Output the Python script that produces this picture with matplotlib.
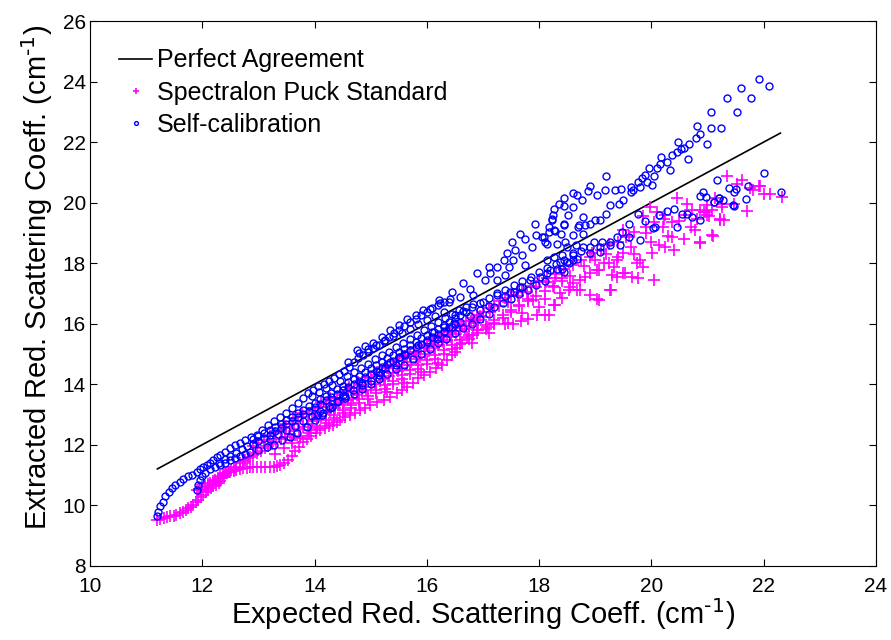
import numpy as np
import matplotlib
matplotlib.use("Agg")
import matplotlib.pyplot as plt

plt.rcParams['font.family'] = ['Liberation Sans', 'DejaVu Sans']
plt.rcParams['mathtext.default'] = 'regular'

# Perfect agreement line (expected = extracted)
line_x = [11.2, 22.3]

# Self-calibration points (grouped by visible strand)
sc_hook = [(11.19, 9.63), (11.22, 9.79), (11.25, 9.96), (11.30, 10.12), (11.34, 10.29), (11.40, 10.45),
           (11.46, 10.56), (11.52, 10.67), (11.60, 10.78), (11.66, 10.86), (11.75, 10.95), (11.81, 11.01),
           (11.90, 11.11), (11.96, 11.19), (12.02, 11.26), (12.08, 11.33), (12.14, 11.41), (12.20, 11.50),
           (12.26, 11.59), (12.32, 11.66), (12.41, 11.77), (12.50, 11.88), (12.58, 11.98), (12.67, 12.07),
           (12.76, 12.16), (12.86, 12.24), (12.97, 12.32), (13.07, 12.48), (13.18, 12.65), (13.28, 12.79),
           (13.39, 12.93), (13.49, 13.06), (13.59, 13.20), (13.70, 13.37), (13.80, 13.53), (13.89, 13.70),
           (13.98, 13.82), (14.07, 13.93), (14.16, 14.02), (14.25, 14.12), (14.34, 14.22), (14.43, 14.33),
           (14.52, 14.45), (14.61, 14.58), (14.70, 14.72), (14.78, 14.86), (14.87, 14.98), (14.96, 15.08),
           (15.05, 15.20), (15.14, 15.30), (15.23, 15.42), (15.32, 15.55), (15.41, 15.68), (15.50, 15.80),
           (15.60, 15.92), (15.70, 16.05), (15.80, 16.15), (15.90, 16.28), (16.00, 16.40), (16.10, 16.52),
           (16.20, 16.62), (16.30, 16.72), (16.42, 16.80)]
sc_hook2 = [(11.90, 10.51), (11.93, 10.67), (11.96, 10.84), (11.99, 10.95), (12.05, 11.08), (12.14, 11.19),
            (12.23, 11.26), (12.32, 11.33), (12.41, 11.41), (12.50, 11.50), (12.58, 11.55), (12.67, 11.63),
            (12.76, 11.70), (12.85, 11.77), (13.00, 11.81), (13.15, 11.94), (13.27, 11.99), (13.42, 12.16),
            (13.57, 12.27), (13.68, 12.38), (13.86, 12.60), (14.01, 12.82), (14.13, 12.99), (14.28, 13.21),
            (14.42, 13.45), (14.55, 13.62), (14.68, 13.80), (14.84, 13.97), (15.00, 14.12), (15.14, 14.30),
            (15.26, 14.52), (15.35, 14.74), (15.53, 14.91), (15.70, 15.13), (15.85, 15.28), (16.00, 15.40),
            (16.18, 15.51), (16.30, 15.72), (16.45, 15.88), (16.60, 16.05), (16.77, 16.25), (16.95, 16.45),
            (17.01, 16.73), (17.10, 16.60), (17.25, 16.94), (17.40, 16.90), (17.49, 17.06), (17.55, 17.05),
            (17.66, 17.22), (17.70, 17.20), (17.84, 17.44), (18.02, 17.55), (18.14, 17.66), (18.32, 17.82),
            (18.44, 17.72), (18.53, 17.99), (18.68, 18.15)]
sc_mid = [(12.30, 11.40), (12.40, 11.52), (12.50, 11.62), (12.60, 11.73), (12.70, 11.85), (12.80, 11.95),
          (12.90, 12.03), (13.00, 12.12), (13.10, 12.22), (13.20, 12.33), (13.30, 12.45), (13.40, 12.56),
          (13.50, 12.68), (13.60, 12.79), (13.70, 12.90), (13.80, 13.02), (13.90, 13.13), (14.00, 13.24),
          (14.10, 13.35), (14.20, 13.47), (14.30, 13.58), (14.40, 13.68), (14.50, 13.80), (14.60, 13.90),
          (14.70, 14.02), (14.80, 14.12), (14.90, 14.23), (15.00, 14.33), (15.10, 14.45), (15.20, 14.56),
          (15.30, 14.66), (15.40, 14.78), (15.50, 14.90), (15.60, 15.00), (15.70, 15.12), (15.80, 15.23),
          (15.90, 15.33), (16.00, 15.45), (16.10, 15.56), (16.20, 15.67), (16.30, 15.77), (16.40, 15.88),
          (16.50, 15.98), (12.90, 12.20), (13.00, 12.30), (13.10, 12.40), (13.20, 12.48), (13.30, 12.60),
          (13.40, 12.70), (13.50, 12.82), (13.60, 12.92), (13.70, 13.05), (13.80, 13.15), (13.90, 13.28),
          (14.00, 13.38), (14.10, 13.50), (14.20, 13.62), (14.30, 13.72), (14.40, 13.84), (14.50, 13.95),
          (14.60, 14.06), (14.70, 14.18), (14.80, 14.28), (14.90, 14.40), (15.00, 14.52), (15.10, 14.62),
          (15.20, 14.74), (15.30, 14.85), (15.40, 14.96), (15.50, 15.08), (15.60, 15.18), (15.70, 15.30),
          (15.80, 15.40), (15.90, 15.52), (16.00, 15.62), (16.10, 15.74), (16.20, 15.84), (16.30, 15.95),
          (16.40, 16.06), (16.50, 16.18), (16.60, 16.30), (16.70, 16.40), (13.20, 12.20), (13.35, 12.35),
          (13.50, 12.50), (13.65, 12.62), (13.80, 12.80), (13.95, 12.95), (14.10, 13.10), (14.25, 13.28),
          (14.40, 13.40), (14.55, 13.55), (14.70, 13.68), (14.85, 13.85), (15.00, 14.00), (15.15, 14.18),
          (15.30, 14.35), (15.45, 14.50), (15.60, 14.65), (15.75, 14.82), (15.90, 15.00), (16.05, 15.18),
          (16.20, 15.35), (16.35, 15.50), (16.50, 15.68), (16.65, 15.85), (16.80, 16.00), (16.95, 16.15),
          (17.10, 16.32), (14.04, 12.98), (14.15, 13.05), (14.31, 13.26), (14.51, 13.64), (14.84, 14.05),
          (15.14, 14.40), (15.45, 14.62), (15.62, 14.95), (16.12, 15.74), (16.30, 15.90), (16.48, 16.01)]
sc_near = [(13.95, 13.60), (14.08, 13.74), (14.20, 13.86), (14.32, 13.98), (14.45, 14.12), (14.58, 14.28),
           (14.70, 14.40), (14.82, 14.52), (14.95, 14.68), (15.08, 14.82), (15.20, 14.95), (15.32, 15.08),
           (15.45, 15.22), (15.58, 15.36), (15.70, 15.50), (15.82, 15.62), (15.95, 15.78), (16.08, 15.92),
           (16.20, 16.05), (16.32, 16.18), (16.45, 16.32), (16.58, 16.45), (16.70, 16.55), (16.82, 16.65),
           (14.80, 15.02), (14.95, 15.15), (15.10, 15.28), (15.25, 15.45), (15.40, 15.58), (15.55, 15.70),
           (15.70, 15.84), (15.85, 16.00), (16.00, 16.12), (16.15, 16.26), (16.30, 16.40), (16.50, 16.30),
           (16.65, 16.42), (16.80, 16.55), (16.95, 16.68), (17.10, 16.85), (17.25, 17.00), (17.40, 17.12),
           (17.55, 17.28), (17.70, 17.42), (17.85, 17.55), (18.00, 17.70), (18.15, 17.85), (18.30, 17.98),
           (18.45, 18.10), (18.60, 18.28), (18.75, 18.40), (18.90, 18.55), (17.20, 16.55), (17.35, 16.70),
           (17.50, 16.82), (17.65, 16.98), (17.80, 17.12), (17.95, 17.28), (18.10, 17.40)]
sc_upper = [(14.60, 14.74), (14.75, 15.13), (14.90, 15.25), (15.05, 15.36), (15.20, 15.55), (15.35, 15.79),
            (15.50, 15.95), (15.65, 16.17), (15.80, 16.30), (15.94, 16.45), (16.06, 16.50), (16.24, 16.68),
            (16.21, 16.78), (16.39, 16.73), (16.45, 17.06), (16.60, 16.89), (16.65, 17.33), (16.77, 17.16),
            (16.83, 16.94), (16.89, 17.66), (17.04, 17.44), (17.10, 17.88), (17.13, 17.66), (17.25, 17.88),
            (17.25, 17.44), (17.37, 18.10), (17.40, 17.60), (17.43, 18.32), (17.46, 17.88), (17.51, 18.70),
            (17.54, 18.10), (17.58, 18.43), (17.66, 18.98), (17.69, 18.26), (17.75, 18.81), (17.75, 17.93),
            (17.87, 18.54), (17.93, 19.29), (17.95, 18.92), (18.08, 18.87), (18.14, 18.65), (18.23, 19.42),
            (18.26, 19.09), (18.44, 19.25), (18.70, 19.20), (18.82, 19.25), (18.05, 18.87), (18.11, 18.70),
            (18.17, 19.04), (18.17, 19.20), (18.23, 19.47), (18.25, 19.58), (18.26, 19.80), (18.29, 19.07),
            (18.32, 18.65), (18.35, 19.97), (18.39, 18.98), (18.44, 19.31), (18.45, 20.17), (18.45, 19.88),
            (18.47, 18.70), (18.51, 19.58), (18.60, 19.86), (18.61, 20.32), (18.61, 18.92), (18.68, 20.24),
            (18.72, 19.25), (18.76, 20.08), (18.79, 19.53), (18.79, 18.98), (18.87, 20.39), (18.91, 20.54),
            (18.91, 19.31), (19.00, 19.42), (19.04, 20.24), (19.09, 19.42), (19.18, 20.43), (19.20, 20.87),
            (19.20, 19.64), (19.27, 19.91), (19.36, 20.43), (19.42, 19.97), (19.46, 20.46), (19.49, 20.08),
            (19.63, 20.52), (19.63, 20.35), (19.68, 20.41), (19.77, 20.68), (19.80, 20.52), (19.83, 20.80),
            (19.89, 20.91), (19.92, 20.68), (19.96, 21.16), (20.01, 20.57), (20.04, 20.89), (20.10, 21.16),
            (20.16, 21.29), (20.17, 21.51), (20.28, 21.35), (20.34, 21.07), (20.37, 21.56), (20.45, 21.68),
            (20.47, 22.00), (20.52, 21.79), (20.58, 21.82), (20.65, 21.45), (20.67, 21.94), (20.79, 22.15),
            (20.81, 22.52), (20.86, 22.26), (20.99, 21.95), (21.06, 23.00), (21.07, 22.48), (21.25, 22.46),
            (21.34, 23.46), (21.52, 23.00), (21.60, 23.79), (21.78, 23.46), (21.91, 24.10), (22.09, 23.85)]
sc_lower = [(18.14, 18.10), (18.20, 17.77), (18.26, 18.21), (18.38, 18.04), (18.41, 18.26), (18.41, 17.82),
            (18.50, 18.54), (18.50, 18.04), (18.61, 18.32), (18.61, 18.10), (18.65, 18.59), (18.79, 18.54),
            (18.91, 18.32), (18.97, 18.70), (19.08, 18.54), (19.09, 18.37), (19.12, 18.70), (19.27, 18.70),
            (19.27, 18.59), (19.39, 18.87), (19.45, 18.59), (19.48, 19.04), (19.60, 19.31), (19.60, 18.87),
            (19.77, 19.62), (19.80, 18.76), (19.88, 19.39), (20.03, 19.17), (20.07, 19.20), (20.14, 19.58),
            (20.28, 19.73), (20.40, 19.80), (20.46, 19.20), (20.55, 19.62), (20.63, 19.62), (20.72, 19.53),
            (20.86, 19.42), (20.86, 20.21), (20.92, 20.35), (20.98, 20.19), (21.11, 20.02), (21.12, 20.02),
            (21.17, 20.76), (21.20, 20.16), (21.21, 20.17), (21.28, 20.08), (21.39, 20.49), (21.45, 19.91),
            (21.47, 19.89), (21.48, 20.35), (21.50, 20.44), (21.69, 20.11), (21.73, 20.54), (22.00, 20.99),
            (22.31, 20.35)]

# Spectralon puck standard points
sp_hook = [(11.19, 9.52), (11.25, 9.55), (11.31, 9.57), (11.37, 9.60), (11.43, 9.63), (11.49, 9.65),
           (11.54, 9.68), (11.60, 9.73), (11.66, 9.79), (11.71, 9.85), (11.75, 9.90), (11.80, 9.95),
           (11.84, 10.01), (11.89, 10.10), (11.93, 10.18), (11.98, 10.26), (12.02, 10.34), (12.07, 10.43),
           (12.11, 10.51), (12.16, 10.57), (12.20, 10.62), (12.25, 10.68), (12.29, 10.73), (12.32, 10.81),
           (12.35, 10.89), (12.38, 10.98), (12.41, 11.06), (12.46, 11.09), (12.50, 11.11), (12.56, 11.14),
           (12.61, 11.17), (12.67, 11.20), (12.73, 11.22), (12.79, 11.24), (12.85, 11.26), (12.91, 11.26),
           (12.97, 11.26), (13.05, 11.26), (13.12, 11.26), (13.20, 11.27), (13.27, 11.28), (13.33, 11.30),
           (13.39, 11.33), (13.45, 11.38), (13.52, 11.48), (13.59, 11.62), (13.66, 11.78), (13.73, 11.94),
           (13.80, 12.08), (13.87, 12.20), (13.94, 12.30), (14.02, 12.40), (14.10, 12.48), (14.18, 12.56),
           (14.26, 12.62), (14.33, 12.66), (14.40, 12.74), (14.46, 12.82), (14.55, 12.90), (14.63, 12.97),
           (14.72, 13.06), (14.81, 13.15), (14.90, 13.23), (14.99, 13.30), (15.11, 13.40), (15.23, 13.48),
           (15.35, 13.59), (15.47, 13.70), (15.56, 13.81), (15.65, 13.92), (15.75, 14.05), (15.85, 14.19),
           (15.95, 14.30), (16.06, 14.41), (16.16, 14.52), (16.27, 14.63), (16.36, 14.80), (16.45, 14.98),
           (16.54, 15.20), (16.63, 15.35), (16.71, 15.57), (16.83, 15.62), (16.92, 15.79), (17.07, 15.90),
           (17.20, 16.01), (17.45, 16.02), (17.54, 15.99), (17.68, 16.10), (17.81, 16.17), (17.96, 16.28),
           (18.11, 16.28), (18.17, 16.28), (18.26, 16.61), (17.90, 16.78), (18.11, 16.83), (18.29, 16.61)]
sp_hook2 = [(11.90, 10.51), (11.95, 10.55), (12.00, 10.59), (12.05, 10.64), (12.10, 10.69), (12.14, 10.73),
            (12.19, 10.79), (12.23, 10.84), (12.28, 10.90), (12.32, 10.95), (12.37, 11.02), (12.42, 11.08),
            (12.47, 11.11), (12.52, 11.15), (12.57, 11.22), (12.61, 11.28), (12.67, 11.39), (12.72, 11.45),
            (12.76, 11.50), (12.81, 11.55), (12.85, 11.59), (12.91, 11.66), (12.97, 11.72), (13.04, 11.80),
            (13.11, 11.88), (13.18, 11.95), (13.25, 12.02), (13.32, 12.10), (13.40, 12.18), (13.48, 12.26),
            (13.56, 12.35), (13.64, 12.44), (13.72, 12.52), (13.80, 12.60), (13.88, 12.68), (13.96, 12.77),
            (14.04, 12.86), (14.12, 12.95), (14.20, 13.04), (14.28, 13.12), (14.36, 13.21), (14.44, 13.30),
            (14.52, 13.38), (14.60, 13.47), (14.68, 13.56), (14.76, 13.64), (14.84, 13.73), (14.92, 13.82),
            (15.00, 13.91), (15.08, 14.00), (15.16, 14.09), (15.24, 14.18), (15.32, 14.27), (15.40, 14.36),
            (15.48, 14.45), (15.56, 14.54), (15.64, 14.63), (15.72, 14.72), (15.80, 14.82), (15.88, 14.91),
            (15.96, 15.00), (16.04, 15.10), (16.12, 15.19), (16.20, 15.28), (16.28, 15.38), (16.36, 15.47),
            (16.44, 15.56), (16.52, 15.66), (16.60, 15.75), (16.68, 15.84), (16.76, 15.94), (16.84, 16.03),
            (16.92, 16.12), (17.00, 16.22)]
sp_band = [(12.90, 11.95), (13.00, 12.05), (13.10, 12.15), (13.20, 12.28), (13.30, 12.38), (13.40, 12.48),
           (13.50, 12.60), (13.60, 12.70), (13.70, 12.80), (13.80, 12.92), (13.90, 13.02), (14.00, 13.12),
           (14.10, 13.24), (14.20, 13.33), (14.30, 13.45), (14.40, 13.55), (14.50, 13.66), (14.60, 13.76),
           (14.70, 13.88), (14.80, 13.98), (14.90, 14.10), (15.00, 14.20), (15.10, 14.32), (15.20, 14.42),
           (15.30, 14.54), (15.40, 14.64), (15.50, 14.76), (15.60, 14.86), (15.70, 14.98), (15.80, 15.08),
           (15.90, 15.20), (16.00, 15.30), (16.10, 15.42), (16.20, 15.52), (16.30, 15.64), (16.40, 15.74),
           (16.50, 15.86), (16.60, 15.96), (16.70, 16.08), (16.80, 16.18), (16.90, 16.30), (17.00, 16.40),
           (17.10, 16.52), (17.20, 16.62), (17.30, 16.74), (17.40, 16.84), (17.50, 16.96), (17.60, 17.06),
           (13.30, 11.70), (13.45, 11.90), (13.60, 12.05), (13.75, 12.22), (13.90, 12.38), (14.05, 12.55),
           (14.20, 12.72), (14.35, 12.88), (14.50, 13.05), (14.65, 13.20), (14.80, 13.38), (14.95, 13.52),
           (15.10, 13.70), (15.25, 13.85), (15.40, 14.02), (15.55, 14.18), (15.70, 14.35), (15.85, 14.50),
           (16.00, 14.68), (16.15, 14.84), (16.30, 15.00), (16.45, 15.18), (16.60, 15.34), (16.75, 15.50),
           (16.90, 15.68), (17.05, 15.84), (17.20, 16.00), (17.35, 16.20), (17.50, 16.40), (17.65, 16.58),
           (17.80, 16.75), (17.95, 16.92), (18.10, 17.08), (18.25, 17.25), (18.40, 17.40), (18.55, 17.58),
           (17.70, 17.10), (17.85, 17.25), (18.00, 17.40), (18.15, 17.52), (18.30, 17.65), (18.45, 17.80),
           (18.60, 17.95), (18.75, 18.10), (18.90, 18.22)]
sp_band2 = [(13.60, 12.15), (13.75, 12.30), (13.90, 12.50), (14.05, 12.62), (14.20, 12.82), (14.35, 12.98),
            (14.50, 13.15), (14.65, 13.30), (14.80, 13.50), (14.95, 13.62), (15.10, 13.82), (15.25, 13.98),
            (15.40, 14.12), (15.55, 14.30), (15.70, 14.46), (15.85, 14.62), (16.00, 14.80), (16.15, 14.95),
            (16.30, 15.12), (16.45, 15.30), (16.60, 15.45), (16.75, 15.62), (16.90, 15.80), (17.05, 15.95),
            (17.20, 16.12), (17.35, 16.30), (17.50, 16.45), (17.65, 16.62), (17.80, 16.80), (13.45, 12.70),
            (13.62, 12.88), (13.78, 13.05), (13.95, 13.22), (14.12, 13.40), (14.28, 13.56), (14.45, 13.74),
            (14.62, 13.92), (14.78, 14.08), (14.95, 14.25), (15.12, 14.42), (15.28, 14.58), (15.45, 14.76),
            (15.62, 14.92), (15.78, 15.08), (15.95, 15.25), (16.12, 15.42), (16.28, 15.58), (16.45, 15.75),
            (16.62, 15.92), (16.78, 16.08), (16.95, 16.25), (17.12, 16.40), (17.28, 16.58), (17.45, 16.72),
            (17.62, 16.90), (17.78, 17.05), (17.95, 17.22), (18.12, 17.38), (18.28, 17.52), (15.30, 13.75),
            (15.60, 14.05), (15.90, 14.40), (16.20, 14.70), (16.50, 15.05), (16.80, 15.35), (17.10, 15.70),
            (17.40, 16.00), (17.70, 16.35), (18.00, 16.55), (18.40, 16.85), (18.55, 17.20)]
sp_upper = [(18.38, 17.00), (18.26, 17.22), (18.53, 17.11), (18.61, 17.33), (18.67, 17.11), (18.73, 17.44),
            (18.73, 17.11), (18.82, 17.55), (18.91, 17.66), (19.03, 16.83), (19.03, 17.77), (19.06, 16.78),
            (19.06, 17.77), (19.15, 17.99), (19.24, 17.99), (19.27, 17.11), (19.28, 17.11), (19.33, 17.88),
            (19.39, 18.10), (19.39, 17.55), (19.50, 18.32), (19.50, 17.66), (19.54, 17.66), (19.63, 18.54),
            (19.66, 17.55), (19.74, 17.99), (19.77, 17.50), (19.80, 18.10), (19.86, 17.88), (19.86, 19.55),
            (19.98, 19.86), (20.01, 18.32), (20.04, 17.44), (20.10, 19.70), (20.13, 18.59), (20.22, 19.47),
            (20.25, 18.54), (20.37, 19.36), (20.37, 18.87), (20.40, 18.45), (20.46, 20.15), (20.58, 18.81),
            (20.63, 19.95), (20.72, 19.75), (20.78, 19.09), (20.82, 19.47), (20.86, 18.67), (20.87, 19.75),
            (20.87, 18.70), (20.93, 19.70), (20.98, 19.70), (20.99, 19.91), (20.99, 19.58), (21.02, 19.55),
            (21.08, 19.77), (21.08, 18.92), (21.10, 18.91), (21.14, 20.15), (21.22, 19.44), (21.23, 19.47),
            (21.26, 19.86), (21.26, 19.95), (21.29, 19.42), (21.34, 20.87), (21.47, 19.95), (21.53, 20.63),
            (21.62, 20.76), (21.70, 19.73), (21.75, 20.49), (21.82, 20.41), (21.91, 20.54), (21.93, 20.54),
            (22.01, 20.30), (22.11, 20.28), (22.33, 20.19), (19.10, 18.45), (19.25, 18.62), (19.40, 18.70),
            (19.55, 18.88), (19.70, 19.02), (19.90, 19.20), (20.05, 19.35), (20.25, 19.58), (18.95, 18.35),
            (18.40, 17.50), (18.80, 17.90), (19.00, 18.10), (19.20, 18.30), (19.40, 18.20), (19.60, 18.90),
            (19.70, 18.30), (19.90, 19.00), (20.00, 18.70), (20.20, 19.20), (20.30, 18.90), (20.50, 19.40),
            (20.60, 19.60), (20.70, 19.20), (19.50, 19.10), (19.30, 17.60), (18.90, 16.95)]

selfcal = np.array(sc_hook + sc_hook2 + sc_mid + sc_near + sc_upper + sc_lower)
puck = np.array(sp_hook + sp_hook2 + sp_band + sp_band2 + sp_upper)

fig = plt.figure(figsize=(8.91, 6.40), dpi=100)
ax = fig.add_axes([0.101, 0.116, 0.882, 0.851])

ax.plot(line_x, line_x, color='black', lw=1.2, label='Perfect Agreement')
ax.plot(puck[:, 0], puck[:, 1], '+', color='#ff00ff', ms=8, mew=1.2, label='Spectralon Puck Standard')
ax.plot(selfcal[:, 0], selfcal[:, 1], 'o', mfc='none', mec='#0000ff', ms=5, mew=1.0, label='Self-calibration')

ax.set_xlim(10, 24)
ax.set_ylim(8, 26)
ax.set_xticks(np.arange(10, 25, 2))
ax.set_yticks(np.arange(8, 27, 2))
ax.tick_params(direction='in', top=True, right=True, length=5, labelsize=15, pad=3)
ax.tick_params(axis='x', pad=8)
ax.set_xlabel(r'Expected Red. Scattering Coeff. (cm$^{\text{-1}}$)', fontsize=21, labelpad=0)
ax.set_ylabel(r'Extracted Red. Scattering Coeff. (cm$^{\text{-1}}$)', fontsize=21)
ax.yaxis.set_label_coords(-0.045, 0.53)

ax.legend(loc='upper left', bbox_to_anchor=(0.015, 0.982), frameon=False, fontsize=18,
          handlelength=1.3, handletextpad=0.2, labelspacing=0.33, markerscale=0.55, borderaxespad=0.3)

fig.savefig('out.png', dpi=100)
